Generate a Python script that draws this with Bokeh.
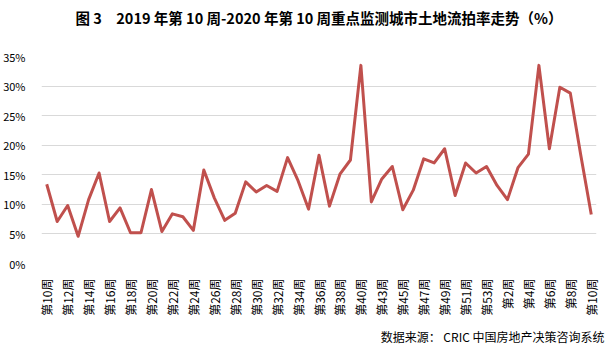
from bokeh.plotting import figure
from bokeh.models import Range1d, FixedTicker, Title
from bokeh.embed import file_html
from bokeh.resources import INLINE

weeks = ["第10周", "第11周", "第12周", "第13周", "第14周", "第15周", "第16周", "第17周",
         "第18周", "第19周", "第20周", "第21周", "第22周", "第23周", "第24周", "第25周",
         "第26周", "第27周", "第28周", "第29周", "第30周", "第31周", "第32周", "第33周",
         "第34周", "第35周", "第36周", "第37周", "第38周", "第39周", "第40周", "第41周",
         "第43周", "第44周", "第45周", "第46周", "第47周", "第48周", "第49周", "第50周",
         "第51周", "第52周", "第53周", "第1周", "第2周", "第3周", "第4周", "第5周",
         "第6周", "第7周", "第8周", "第9周", "第10周"]

rate = [13.4, 7.1, 9.8, 4.6, 10.8, 15.3, 7.1, 9.4, 5.2, 5.2,
        12.5, 5.4, 8.4, 7.9, 5.6, 15.8, 11.1, 7.3, 8.5, 13.8,
        12.1, 13.2, 12.2, 17.9, 14.0, 9.2, 18.3, 9.7, 15.1, 17.5,
        33.5, 10.4, 14.3, 16.4, 9.1, 12.4, 17.7, 17.0, 19.4, 11.5,
        17.0, 15.3, 16.4, 13.2, 10.8, 16.2, 18.5, 33.5, 19.4, 29.8,
        28.8, 18.3, 8.3]

yticks = [0, 5, 10, 15, 20, 25, 30, 35]

title_text = "图 3　2019 年第 10 周-2020 年第 10 周重点监测城市土地流拍率走势（%）"
source_text = "数据来源： CRIC 中国房地产决策咨询系统"

FONT = "Noto Sans CJK SC"
xs = list(range(len(weeks)))

p = figure(width=612, height=356, output_backend="svg", toolbar_location=None,
           x_range=Range1d(-0.5, len(weeks) - 0.5), y_range=Range1d(0, 35),
           min_border_left=34, min_border_right=16, min_border_top=56, min_border_bottom=93)
p.outline_line_color = None
p.background_fill_color = "white"
p.border_fill_color = "white"

p.line(xs, rate, line_color="#C0504D", line_width=3, line_join="round")

# y axis
p.yaxis.ticker = FixedTicker(ticks=yticks)
p.yaxis.major_label_overrides = {t: f"{t}%" for t in yticks}
p.yaxis.axis_line_color = None
p.yaxis.major_tick_line_color = None
p.yaxis.minor_tick_line_color = None
p.yaxis.major_label_standoff = 10
p.yaxis.major_label_text_font = FONT
p.yaxis.major_label_text_font_size = "11px"
p.yaxis.major_label_text_color = "#000000"

# x axis
even = xs[::2]
p.xaxis.ticker = FixedTicker(ticks=even)
p.xaxis.major_label_overrides = {i: weeks[i] for i in even}
p.xaxis.major_label_orientation = 1.5708
p.xaxis.axis_line_color = None
p.xaxis.major_tick_line_color = None
p.xaxis.minor_tick_line_color = None
p.xaxis.major_label_standoff = 9
p.xaxis.major_label_text_font = FONT
p.xaxis.major_label_text_font_size = "12px"
p.xaxis.major_label_text_color = "#000000"

p.xgrid.grid_line_color = None
p.ygrid.ticker = FixedTicker(ticks=yticks)
p.ygrid.grid_line_color = "#D9D9D9"
p.ygrid.grid_line_width = 1

p.title = Title(text=title_text, align="center", text_font=FONT, text_font_size="14.5px",
                text_font_style="bold", text_color="#000000", offset=-12, standoff=0)
# spacer between title and plot frame
p.add_layout(Title(text=" ", text_font_size="15px"), "above")

src = Title(text=source_text, align="right", text_font=FONT, text_font_size="12px",
            text_font_style="normal", text_color="#000000", offset=-8, standoff=14)
p.add_layout(src, "below")

open("out.html", "w").write(file_html(p, INLINE))
